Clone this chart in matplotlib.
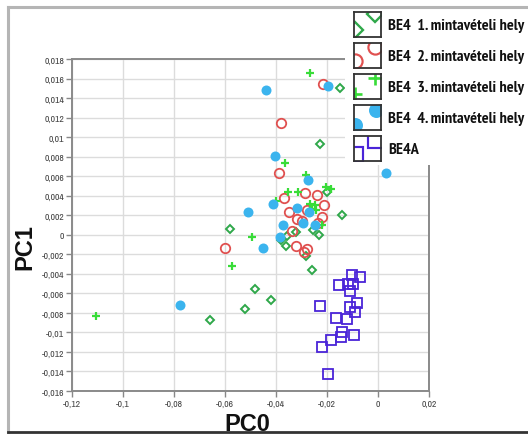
import matplotlib
matplotlib.use("Agg")
import matplotlib.pyplot as plt
from matplotlib.lines import Line2D

# ---------------- data ----------------
x1 = [-0.0150, -0.0229, -0.0201, -0.0141, -0.0579, -0.0320, -0.0254, -0.0232, -0.0357,
      -0.0380, -0.0359, -0.0283, -0.0258, -0.0481, -0.0420, -0.0523, -0.0657]
y1 = [0.0150, 0.0093, 0.0044, 0.0020, 0.0006, 0.0003, 0.0005, 0.0000, -0.0001,
      -0.0005, -0.0011, -0.0022, -0.0036, -0.0056, -0.0067, -0.0076, -0.0087]

x2 = [-0.0216, -0.0380, -0.0387, -0.0369, -0.0285, -0.0241, -0.0350, -0.0279, -0.0212,
      -0.0220, -0.0316, -0.0298, -0.0337, -0.0235, -0.0320, -0.0278, -0.0291, -0.0601]
y2 = [0.0154, 0.0114, 0.0063, 0.0038, 0.0043, 0.0041, 0.0023, 0.0025, 0.0030,
      0.0018, 0.0016, 0.0014, 0.0004, 0.0012, -0.0011, -0.0015, -0.0018, -0.0014]

x3 = [-0.0267, -0.0366, -0.0283, -0.0351, -0.0314, -0.0203, -0.0186, -0.0401, -0.0266,
      -0.0249, -0.0242, -0.0258, -0.0218, -0.0493, -0.0572, -0.1107]
y3 = [0.0166, 0.0074, 0.0061, 0.0044, 0.0044, 0.0049, 0.0047, 0.0035, 0.0032,
      0.0030, 0.0025, 0.0026, 0.0010, -0.0002, -0.0032, -0.0083]

x4 = [-0.0438, -0.0197, -0.0404, -0.0274, -0.0413, -0.0511, -0.0317, -0.0269, -0.0372,
      -0.0249, 0.0030, -0.0776, -0.0450, -0.0386, -0.0296]
y4 = [0.0148, 0.0152, 0.0081, 0.0056, 0.0032, 0.0023, 0.0027, 0.0023, 0.0010,
      0.0010, 0.0063, -0.0072, -0.0014, -0.0002, 0.0012]

x5 = [-0.0101, -0.0071, -0.0153, -0.0117, -0.0098, -0.0111, -0.0226, -0.0084, -0.0109,
      -0.0091, -0.0163, -0.0120, -0.0141, -0.0145, -0.0094, -0.0186, -0.0221, -0.0196]
y5 = [-0.0041, -0.0043, -0.0051, -0.0050, -0.0050, -0.0058, -0.0073, -0.0070, -0.0074,
      -0.0079, -0.0085, -0.0086, -0.0100, -0.0105, -0.0103, -0.0108, -0.0115, -0.0143]

series_labels = ["BE4  1. mintavételi hely", "BE4  2. mintavételi hely",
                 "BE4  3. mintavételi hely", "BE4  4. mintavételi hely", "BE4A"]

xticks = [-0.12, -0.10, -0.08, -0.06, -0.04, -0.02, 0.0, 0.02]
xticklabels = ["-0,12", "-0,1", "-0,08", "-0,06", "-0,04", "-0,02", "0", "0,02"]
yticks = [0.018, 0.016, 0.014, 0.012, 0.010, 0.008, 0.006, 0.004, 0.002, 0.0,
          -0.002, -0.004, -0.006, -0.008, -0.010, -0.012, -0.014, -0.016]
yticklabels = ["0,018", "0,016", "0,014", "0,012", "0,01", "0,008", "0,006", "0,004", "0,002", "0",
               "-0,002", "-0,004", "-0,006", "-0,008", "-0,01", "-0,012", "-0,014", "-0,016"]

# ---------------- styles ----------------
W, H = 528, 435
NARROW = ["PT Sans Narrow", "Archivo Narrow", "DejaVu Sans"]
TICKF = ["Archivo Narrow", "PT Sans Narrow", "DejaVu Sans"]
BOLD = ["Liberation Sans", "DejaVu Sans"]

c_dia = "#2fa84a"
c_red = "#e0504f"
c_plus = "#38dc38"
c_blue = "#3bb4ee"
c_sq = "#4a24d8"

styles = [
    dict(marker="D", ms=4.4, mfc="none", mec=c_dia, mew=1.4, ls="none"),
    dict(marker="o", ms=6.8, mfc="none", mec=c_red, mew=1.3, ls="none"),
    dict(marker="+", ms=6.0, mec=c_plus, mew=1.6, ls="none"),
    dict(marker="o", ms=7.2, mfc=c_blue, mec=c_blue, mew=0, ls="none"),
    dict(marker="s", ms=7.2, mfc="none", mec=c_sq, mew=1.3, ls="none"),
]

fig = plt.figure(figsize=(W / 100, H / 100), dpi=100)
fig.patch.set_facecolor("white")

def fx(px):
    return px / W

def fy(py):
    return 1 - py / H

ax = fig.add_axes([fx(72), fy(392), (429 - 72) / W, (392 - 60) / H])
ax.set_xlim(-0.12, 0.02)
ax.set_ylim(-0.016, 0.018)

data = [(x1, y1), (x2, y2), (x3, y3), (x4, y4), (x5, y5)]
for (xs, ys), st in zip(data, styles):
    ax.plot(xs, ys, clip_on=False, zorder=3, **st)

ax.set_xticks(xticks)
ax.set_xticklabels(xticklabels, family=TICKF, fontsize=7, color="#444444")
ax.set_yticks(yticks)
ax.set_yticklabels(yticklabels, family=TICKF, fontsize=7, color="#444444")
ax.tick_params(direction="out", length=4, width=1, color="#888888", pad=1.5)
ax.grid(True, color="#dcdcdc", lw=1.0)
ax.set_axisbelow(True)
for s in ax.spines.values():
    s.set_color("#8a8a8a")
    s.set_linewidth(1.4)

# axis titles
fig.text(fx(25), fy(247), "PC1", rotation=90, ha="center", va="center",
         fontsize=17, fontweight="bold", family=BOLD, color="#111111")
fig.text(fx(247), fy(425), "PC0", ha="center", va="center",
         fontsize=17, fontweight="bold", family=BOLD, color="#111111")

# outer frame lines
fig.add_artist(Line2D([fx(8), fx(528)], [fy(8), fy(8)], color="#b5b5b5", lw=2.2, zorder=10))
fig.add_artist(Line2D([fx(8), fx(8)], [fy(8), fy(433)], color="#b5b5b5", lw=2.2, zorder=10))
fig.add_artist(Line2D([fx(8), fx(528)], [fy(432.5), fy(432.5)], color="#333333", lw=2.0, zorder=10))

# legend background
lax = fig.add_axes([fx(345), fy(166), (W - 345) / W, (166 - 11) / H])
lax.set_facecolor("white")
lax.set_xticks([])
lax.set_yticks([])
for s in lax.spines.values():
    s.set_visible(False)
lax.set_zorder(5)

icon_pos = [((0.78, 0.92), (0.04, 0.30)),
            ((0.78, 0.85), (0.04, 0.30)),
            ((0.78, 0.85), (0.04, 0.20)),
            ((0.80, 0.80), (0.04, 0.22)),
            ((0.78, 0.85), (0.04, 0.30))]
icon_scale = [1.8, 1.5, 1.6, 1.5, 1.5]

for i, lab in enumerate(series_labels):
    top = 13 + 31 * i
    iax = fig.add_axes([fx(354), fy(top + 25), 27 / W, 25 / H])
    iax.set_zorder(6)
    iax.set_xlim(0, 1)
    iax.set_ylim(0, 1)
    iax.set_xticks([])
    iax.set_yticks([])
    for s in iax.spines.values():
        s.set_color("#333333")
        s.set_linewidth(1.3)
    st = dict(styles[i])
    st["ms"] = st["ms"] * icon_scale[i]
    if "mew" in st:
        st["mew"] = st["mew"] * 1.2
    for (px, py) in icon_pos[i]:
        iax.plot([px], [py], clip_on=True, **st)
    fig.text(fx(388), fy(top + 13), lab, ha="left", va="center", fontsize=11.6,
             fontweight="bold", family=NARROW, color="#111111", zorder=7)

fig.savefig("out.png", dpi=100, facecolor="white")
